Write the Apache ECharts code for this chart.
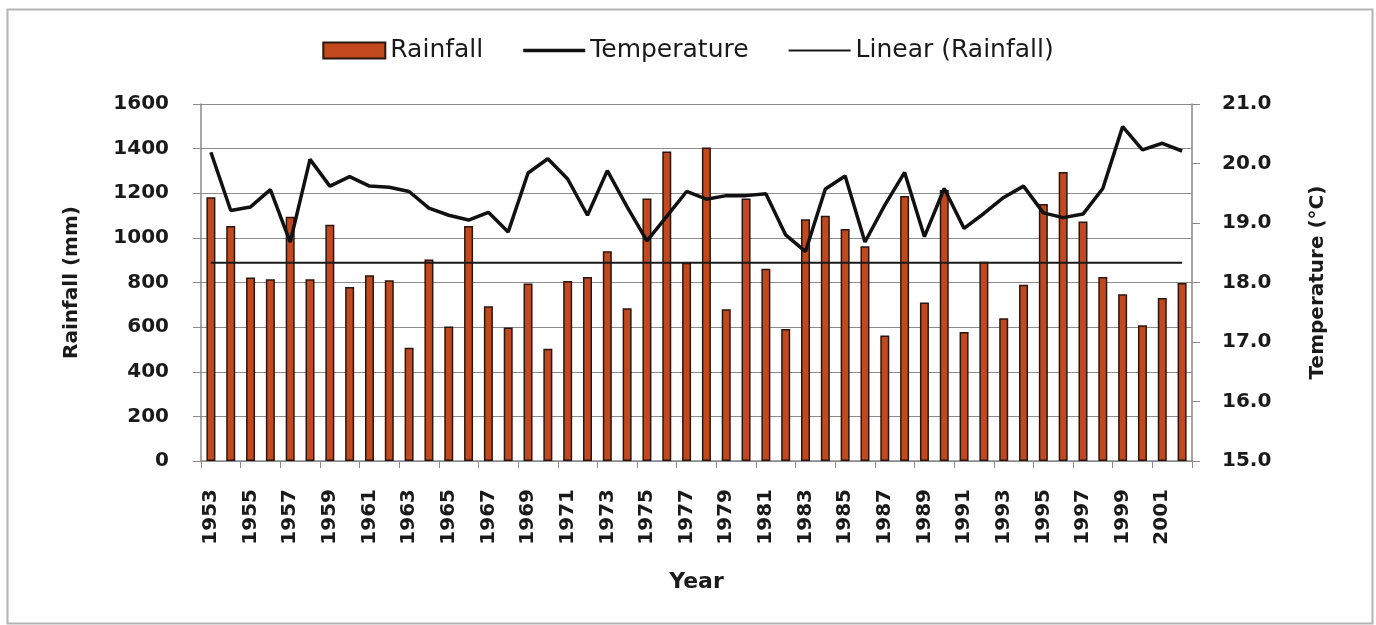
<!DOCTYPE html>
<html>
<head>
<meta charset="utf-8">
<script src="https://cdn.jsdelivr.net/npm/echarts@6/dist/echarts.min.js"></script>
<style>
  html, body { margin: 0; padding: 0; background: #fff; }
</style>
</head>
<body>
<div id="main" style="width: 1376px; height: 625px"></div>
<script>
// years 1953 - 2002
var years = ['1953', '1954', '1955', '1956', '1957', '1958', '1959', '1960', '1961', '1962',
  '1963', '1964', '1965', '1966', '1967', '1968', '1969', '1970', '1971', '1972',
  '1973', '1974', '1975', '1976', '1977', '1978', '1979', '1980', '1981', '1982',
  '1983', '1984', '1985', '1986', '1987', '1988', '1989', '1990', '1991', '1992',
  '1993', '1994', '1995', '1996', '1997', '1998', '1999', '2000', '2001', '2002']

// rainfall (mm)
var rainfall = [1182, 1053, 822, 815, 1095, 815, 1059, 780, 832, 810,
  508, 903, 603, 1053, 693, 598, 795, 503, 807, 825,
  940, 685, 1177, 1387, 888, 1405, 680, 1177, 862, 592,
  1084, 1099, 1040, 962, 562, 1188, 710, 1215, 578, 893,
  640, 790, 1152, 1295, 1073, 825, 747, 608, 730, 798]

// temperature (°C)
var temperature = [20.19, 19.21, 19.27, 19.56, 18.68, 20.07, 19.62, 19.78, 19.62, 19.60,
  19.53, 19.25, 19.13, 19.05, 19.18, 18.85, 19.84, 20.08, 19.74, 19.13,
  19.88, 19.27, 18.70, 19.11, 19.53, 19.40, 19.46, 19.46, 19.49, 18.80,
  18.52, 19.57, 19.79, 18.68, 19.30, 19.85, 18.77, 19.58, 18.91, 19.16,
  19.43, 19.62, 19.17, 19.09, 19.15, 19.58, 20.62, 20.23, 20.34, 20.21]

// linear trend of rainfall (start / end)
var trendYears = ['1953', '2002']
var trendValues = [888, 888]

var font = 'DejaVu Sans'
var myChart = echarts.init(document.getElementById('main'))

var option = {
  backgroundColor: '#fff',
  animation: false,
  textStyle: { fontFamily: font, color: '#1a1a1a' },
  graphic: [
    {
      type: 'rect',
      shape: { x: 7.5, y: 9.5, width: 1365, height: 614 },
      style: { fill: 'none', stroke: '#b4b4b4', lineWidth: 2 },
      silent: true
    }
  ],
  legend: {
    left: 'center',
    top: 33,
    itemWidth: 62,
    itemHeight: 16,
    itemGap: 40,
    textStyle: { fontFamily: font, fontSize: 25, color: '#1a1a1a' },
    data: [
      { name: 'Rainfall', icon: 'rect' },
      { name: 'Temperature', icon: 'path://M0 0H62V3.5H0Z' },
      { name: 'Linear (Rainfall)', icon: 'path://M0 0H62V2H0Z' }
    ]
  },
  grid: {
    left: 201,
    right: 184,
    top: 104,
    bottom: 164
  },
  xAxis: {
    type: 'category',
    data: years,
    name: 'Year',
    nameLocation: 'middle',
    nameGap: 110,
    nameTextStyle: { fontFamily: font, fontSize: 22, fontWeight: 'bold', color: '#1a1a1a' },
    axisLine: { lineStyle: { color: '#8a8a8a', width: 1.5 } },
    axisTick: { show: true, length: 7, lineStyle: { color: '#8a8a8a' } },
    axisLabel: {
      interval: 1,
      rotate: 90,
      margin: 28,
      fontFamily: font,
      fontSize: 20,
      fontWeight: 'bold',
      color: '#1a1a1a'
    }
  },
  yAxis: [
    {
      type: 'value',
      min: 0,
      max: 1600,
      interval: 200,
      name: 'Rainfall (mm)',
      nameLocation: 'middle',
      nameGap: 119,
      nameTextStyle: { fontFamily: font, fontSize: 20, fontWeight: 'bold', color: '#1a1a1a' },
      axisLine: { show: true, lineStyle: { color: '#8a8a8a', width: 1.5 } },
      axisTick: { show: true, length: 8, lineStyle: { color: '#8a8a8a' } },
      axisLabel: {
        margin: 32,
        fontFamily: font,
        fontSize: 20,
        fontWeight: 'bold',
        color: '#1a1a1a',
        formatter: function(v) { return String(v) }
      },
      splitLine: { lineStyle: { color: '#8c8c8c', width: 1.2 } }
    },
    {
      type: 'value',
      min: 15,
      max: 21,
      interval: 1,
      position: 'right',
      name: 'Temperature (°C)',
      nameLocation: 'middle',
      nameRotate: 90,
      nameGap: 116,
      nameTextStyle: { fontFamily: font, fontSize: 20, fontWeight: 'bold', color: '#1a1a1a' },
      axisLine: { show: true, lineStyle: { color: '#8a8a8a', width: 1.5 } },
      axisTick: { show: true, length: 8, lineStyle: { color: '#8a8a8a' } },
      axisLabel: {
        margin: 30,
        fontFamily: font,
        fontSize: 20,
        fontWeight: 'bold',
        color: '#1a1a1a',
        formatter: function(v) { return v.toFixed(1) }
      },
      splitLine: { show: false }
    }
  ],
  series: [
    {
      name: 'Rainfall',
      type: 'bar',
      barWidth: 9,
      itemStyle: { color: '#c2481e', borderColor: '#2a1610', borderWidth: 1.5 },
      data: rainfall
    },
    {
      name: 'Temperature',
      type: 'line',
      yAxisIndex: 1,
      symbol: 'none',
      z: 4,
      lineStyle: { color: '#111', width: 3.5 },
      itemStyle: { color: '#111' },
      data: temperature
    },
    {
      name: 'Linear (Rainfall)',
      type: 'line',
      symbol: 'none',
      z: 3,
      lineStyle: { color: '#1a1a1a', width: 2 },
      itemStyle: { color: '#1a1a1a' },
      data: trendYears.map(function(y, i) { return [y, trendValues[i]] })
    }
  ]
}

myChart.setOption(option)
</script>
</body>
</html>
